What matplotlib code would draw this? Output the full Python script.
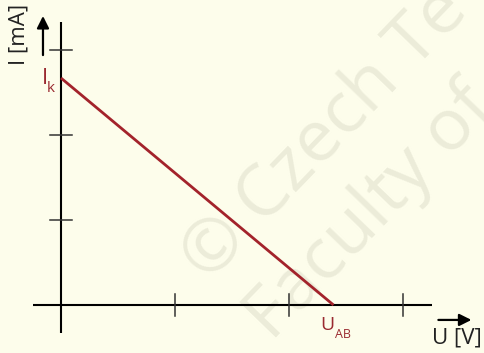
import matplotlib
matplotlib.use('Agg')
import matplotlib.pyplot as plt

# load line in tick units: short-circuit current on I axis, open voltage on U axis
u_vals = [0.0, 2.39]
i_vals = [2.67, 0.0]
x_ticks = [1, 2, 3]
y_ticks = [1, 2, 3]

bg = '#fdfdeb'
red = '#a3232b'
lab_red = '#9a2a30'
wm = '#ececd9'

plt.rcParams['font.family'] = ['Open Sans', 'DejaVu Sans']

fig = plt.figure(figsize=(4.85, 3.53), dpi=100, facecolor=bg)
ax = fig.add_axes([0, 0, 1, 1])
ax.set_facecolor(bg)
ax.set_xlim(-0.535, 3.719)
ax.set_ylim(-0.565, 3.588)
ax.axis('off')

# watermark
ax.text(1.29, 0.25, '© Czech Te', rotation=46, fontsize=52, color=wm,
        ha='left', va='baseline', rotation_mode='anchor', zorder=0, clip_on=True)
ax.text(1.85, -0.435, 'Faculty of', rotation=46, fontsize=52, color=wm,
        ha='left', va='baseline', rotation_mode='anchor', zorder=0, clip_on=True)

# axes
ax.plot([0, 0], [-0.33, 3.33], color='black', lw=1.5, solid_capstyle='butt')
ax.plot([-0.245, 3.25], [0, 0], color='black', lw=1.5, solid_capstyle='butt')
for t in y_ticks:
    ax.plot([-0.096, 0.096], [t, t], color='#333333', lw=1.1)
for t in x_ticks:
    ax.plot([t, t], [-0.13, 0.13], color='#333333', lw=1.1)

# axis arrows
ax.annotate('', xy=(-0.158, 3.40), xytext=(-0.158, 2.94),
            arrowprops=dict(arrowstyle='-|>', color='black', lw=1.6,
                            mutation_scale=18, shrinkA=0, shrinkB=0))
ax.annotate('', xy=(3.60, -0.176), xytext=(3.31, -0.176),
            arrowprops=dict(arrowstyle='-|>', color='black', lw=1.6,
                            mutation_scale=18, shrinkA=0, shrinkB=0))

ax.text(-0.368, 3.18, 'I [mA]', rotation=90, fontsize=16, color='#222222',
        ha='center', va='center')
ax.text(3.47, -0.39, 'U [V]', fontsize=16, color='#222222',
        ha='center', va='center')

# load line
ax.plot(u_vals, i_vals, color=red, lw=2.0, solid_capstyle='butt')

ax.text(u_vals[0] - 0.14, i_vals[0], 'I', fontsize=16, color=lab_red,
        ha='center', va='center')
ax.text(u_vals[0] - 0.09, i_vals[0] - 0.12, 'k', fontsize=11, color=lab_red,
        ha='center', va='center')
ax.text(u_vals[1] - 0.05, i_vals[1] - 0.235, 'U', fontsize=14, color=lab_red,
        ha='center', va='center')
ax.text(u_vals[1] + 0.084, i_vals[1] - 0.347, 'AB', fontsize=9, color=lab_red,
        ha='center', va='center')

fig.savefig('out.png', dpi=100, facecolor=bg)
